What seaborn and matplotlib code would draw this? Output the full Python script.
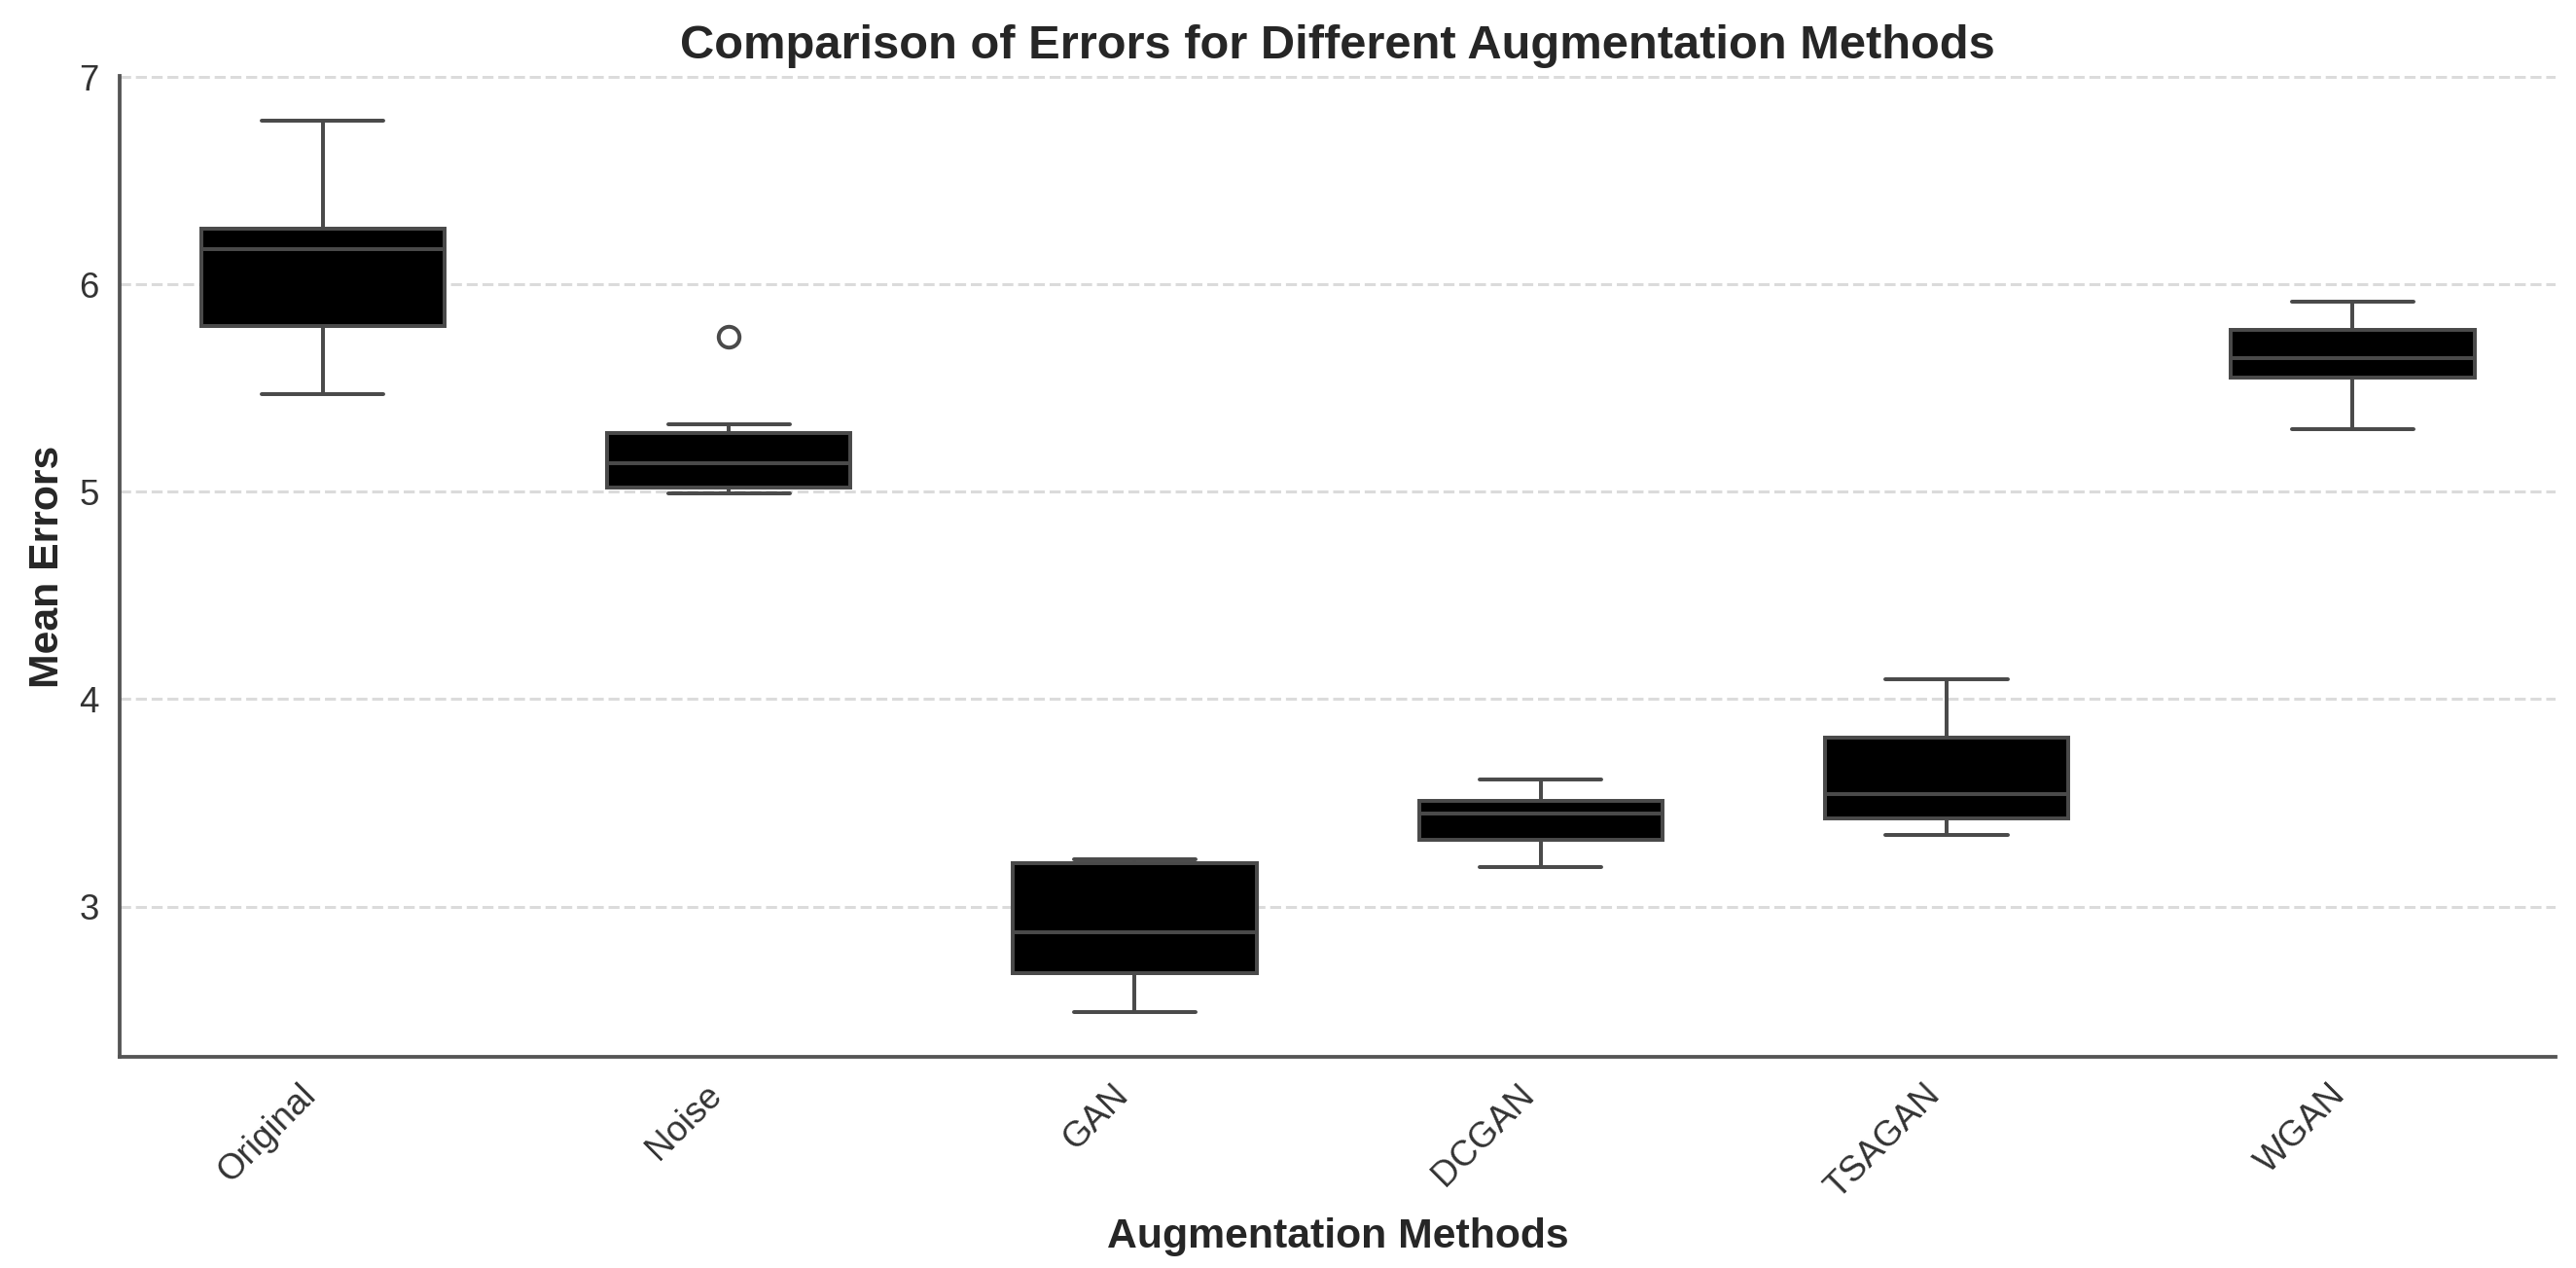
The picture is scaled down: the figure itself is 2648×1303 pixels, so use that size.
import matplotlib
matplotlib.use("Agg")
import matplotlib.pyplot as plt
import seaborn as sns
import pandas as pd

# ---- data ----
methods = ["Original", "Noise", "GAN", "DCGAN", "TSAGAN", "WGAN"]
original = [5.47, 5.80, 6.17, 6.27, 6.79]
noise = [4.99, 5.00, 5.02, 5.08, 5.136, 5.21, 5.282, 5.324, 5.75]
gan = [2.49, 2.68, 2.875, 3.21, 3.23]
dcgan = [3.19, 3.32, 3.45, 3.51, 3.614]
tsagan = [3.344, 3.425, 3.543, 3.814, 4.094]
wgan = [5.30, 5.55, 5.645, 5.78, 5.917]

series = [original, noise, gan, dcgan, tsagan, wgan]
rows = []
for m, vals in zip(methods, series):
    for v in vals:
        rows.append({"Method": m, "Error": v})
df = pd.DataFrame(rows)

# ---- style ----
sns.set_style("whitegrid")
plt.rcParams["font.family"] = ["Liberation Sans", "DejaVu Sans"]

fig = plt.figure(figsize=(2648 / 220, 1303 / 220), dpi=220)
ax = fig.add_axes([0.0465, 0.1665, 0.9456, 0.7736])

line_col = "#4a4a4a"
sns.boxplot(
    data=df, x="Method", y="Error", order=methods, ax=ax,
    color="black", linecolor=line_col, linewidth=1.3, width=0.6,
    flierprops={"marker": "o", "markerfacecolor": "white",
                "markeredgecolor": line_col, "markersize": 7,
                "markeredgewidth": 1.3},
)

ax.set_title("Comparison of Errors for Different Augmentation Methods",
             fontsize=16, fontweight="bold", color="#262626")
ax.set_xlabel("Augmentation Methods", fontsize=14, fontweight="bold",
              color="#262626", labelpad=4)
ax.set_ylabel("Mean Errors", fontsize=14, fontweight="bold", color="#262626")

ax.tick_params(axis="both", labelsize=12, colors="#333333")
plt.setp(ax.get_xticklabels(), rotation=45, ha="right", rotation_mode="default")

ax.xaxis.grid(False)
ax.yaxis.grid(True, linestyle="--", color="#cccccc", alpha=0.7, linewidth=1.0)

for side in ["top", "right"]:
    ax.spines[side].set_visible(False)
for side in ["left", "bottom"]:
    ax.spines[side].set_color("#555555")
    ax.spines[side].set_linewidth(1.25)

fig.savefig("out.png", dpi=220)
